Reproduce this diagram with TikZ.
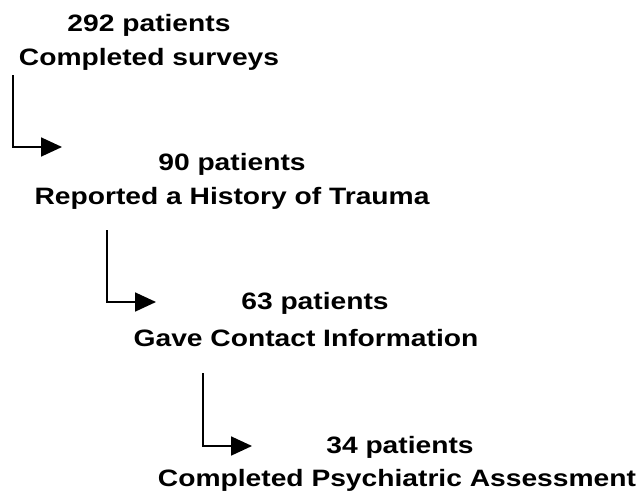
\documentclass[tikz,border=0pt]{standalone}
\usepackage{fontspec}
\setmainfont[FakeStretch=1.19]{Liberation Sans}
\usetikzlibrary{arrows.meta}
\tikzset{
  lbl/.style={anchor=base, inner sep=0pt, font=\fontsize{23.7}{28}\selectfont\bfseries},
  conn/.style={line width=1.8pt, -{Triangle[length=21pt,width=19pt]}}
}
\begin{document}
\begin{tikzpicture}[x=1pt,y=-1pt]
\useasboundingbox (0,0) rectangle (644,495);
% block 1
\node[lbl] (n1) at (149,31) {292 patients};
\node[lbl] (d1) at (149,65) {Completed surveys};
% block 2
\node[lbl] (n2) at (232,170) {90 patients};
\node[lbl] (d2) at (232,204) {Reported a History of Trauma};
% block 3
\node[lbl] (n3) at (315,309) {63 patients};
\node[lbl] (d3) at (306,346) {Gave Contact Information};
% block 4
\node[lbl] (n4) at (400,453) {34 patients};
\node[lbl] (d4) at (397,486) {Completed Psychiatric Assessment};
% connectors
\coordinate (s1) at (13,75);
\coordinate (t1) at (62,147);
\coordinate (s2) at (107,230);
\coordinate (t2) at (156,302);
\coordinate (s3) at (203,373);
\coordinate (t3) at (252,446);
\draw[conn] (s1) |- (t1);
\draw[conn] (s2) |- (t2);
\draw[conn] (s3) |- (t3);
\end{tikzpicture}
\end{document}
